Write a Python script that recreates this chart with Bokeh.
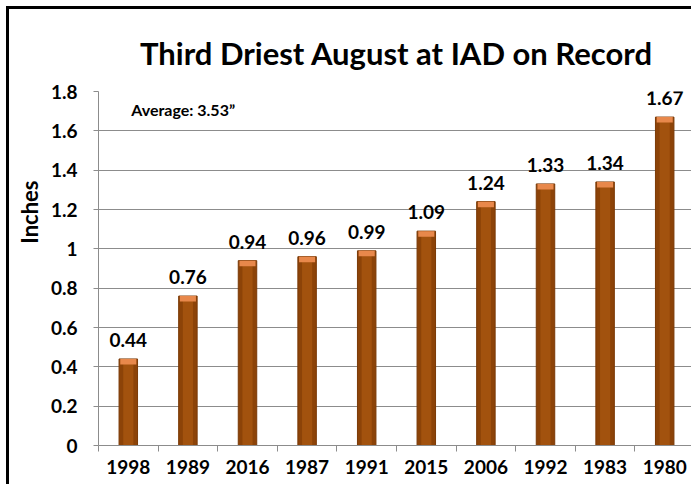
from bokeh.plotting import figure
from bokeh.models import Range1d, FixedTicker, NumeralTickFormatter, Label, ColumnDataSource, Title
from bokeh.core.properties import value
from bokeh.embed import file_html
from bokeh.resources import INLINE

years = ["1998", "1989", "2016", "1987", "1991", "2015", "2006", "1992", "1983", "1980"]
inches = [0.44, 0.76, 0.94, 0.96, 0.99, 1.09, 1.24, 1.33, 1.34, 1.67]
y_ticks = [0, 0.2, 0.4, 0.6, 0.8, 1.0, 1.2, 1.4, 1.6, 1.8]
title_text = "Third Driest August at IAD on Record"
note_text = "Average: 3.53\u201d"
y_label = "Inches"

FONT = "Lato"
n = len(years)
xs = [i + 0.5 for i in range(n)]
src = ColumnDataSource(dict(x=xs, top=inches, label=[f"{v:.2f}" for v in inches],
                            cap_bottom=[v - 0.028 for v in inches]))

p = figure(width=685, height=478, output_backend="svg", toolbar_location=None,
           x_range=Range1d(0, n), y_range=Range1d(0, 1.8),
           min_border_left=89, min_border_right=0, min_border_top=82, min_border_bottom=42,
           background_fill_color="white", border_fill_color="white")
p.styles = {"border-left": "3px solid black", "border-top": "3px solid black",
            "margin-left": "6px", "margin-top": "6px"}
p.outline_line_color = None

p.title.text = title_text
p.title.text_font = FONT
p.title.text_font_size = "31px"
p.title.text_font_style = "bold"
p.title.align = "center"
p.title.text_color = "black"
p.title.standoff = 40

# y-axis title as a side title so it can sit above the frame centre like the reference
p.add_layout(Title(text=y_label, align="right", offset=89, text_font=FONT,
                   text_font_size="22px", text_font_style="bold", text_color="black",
                   standoff=9), "left")

# bars
p.vbar(x="x", top="top", bottom=0, width=0.31, source=src,
       fill_color="#8c4308", line_color="#7a3906", line_width=1)
p.vbar(x="x", top="top", bottom=0, width=0.17, source=src,
       fill_color="#a2520e", line_color=None)
p.vbar(x="x", top="top", bottom="cap_bottom", width=0.27, source=src,
       fill_color="#e8884b", line_color=None)

p.text(x="x", y="top", text="label", source=src, text_align="center",
       text_baseline="bottom", y_offset=-12, text_font_size="19px",
       text_font_style="bold", text_color="black", text_font=value(FONT))

p.add_layout(Label(x=0.55, y=1.71, text=note_text, text_font=FONT, text_font_size="16px",
                   text_font_style="bold", text_baseline="middle", text_color="black"))

# axes
p.yaxis.ticker = FixedTicker(ticks=y_ticks)
p.yaxis.formatter = NumeralTickFormatter(format="0.[0]")
p.yaxis.major_label_text_font = FONT
p.yaxis.major_label_text_font_size = "19px"
p.yaxis.major_label_text_font_style = "bold"
p.yaxis.major_label_text_color = "black"
p.yaxis.major_label_standoff = 16
p.yaxis.major_tick_out = 5
p.yaxis.major_tick_in = 0
p.yaxis.minor_tick_line_color = None
p.yaxis.axis_line_color = "#8c8c8c"
p.yaxis.major_tick_line_color = "#8c8c8c"

p.xaxis.ticker = FixedTicker(ticks=xs, minor_ticks=list(range(n + 1)))
p.xaxis.major_label_overrides = {x: y for x, y in zip(xs, years)}
p.xaxis.major_label_text_font = FONT
p.xaxis.major_label_text_font_size = "19px"
p.xaxis.major_label_text_font_style = "bold"
p.xaxis.major_label_text_color = "black"
p.xaxis.major_label_standoff = 8
p.xaxis.major_tick_out = 0
p.xaxis.major_tick_in = 0
p.xaxis.minor_tick_out = 6
p.xaxis.minor_tick_in = 0
p.xaxis.minor_tick_line_color = "#8c8c8c"
p.xaxis.axis_line_color = "#8c8c8c"

p.xgrid.grid_line_color = None
p.ygrid.ticker = FixedTicker(ticks=y_ticks)
p.ygrid.grid_line_color = "#8c8c8c"
p.ygrid.grid_line_width = 1

open("out.html", "w").write(file_html(p, INLINE))
